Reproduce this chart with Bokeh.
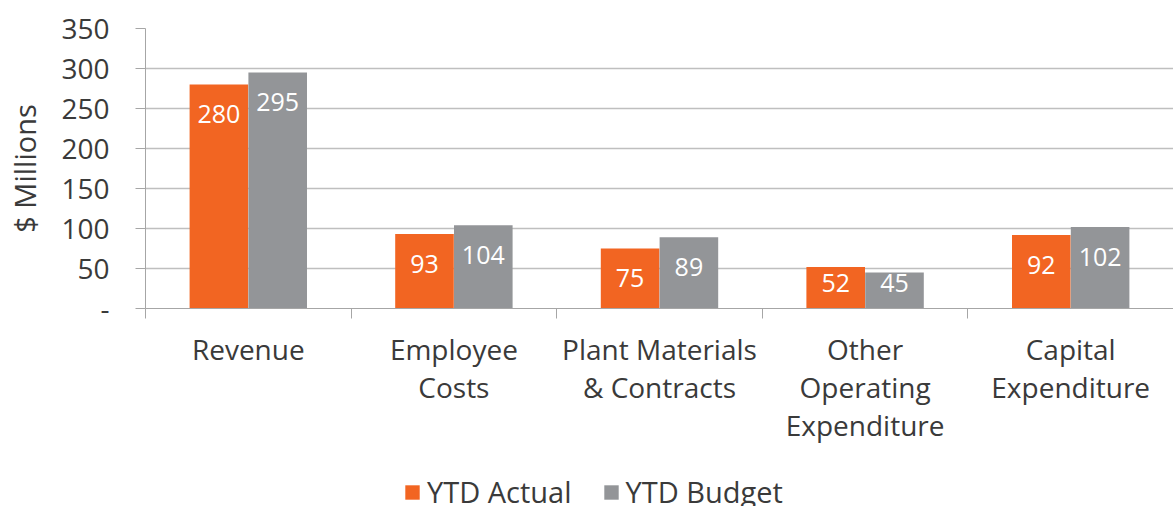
from bokeh.plotting import figure
from bokeh.layouts import column
from bokeh.models import (ColumnDataSource, Range1d, FixedTicker, Legend, LegendItem)
from bokeh.transform import dodge
from bokeh.core.properties import value
from bokeh.embed import file_html
from bokeh.resources import INLINE

categories = ["Revenue", "Employee\nCosts", "Plant Materials\n& Contracts",
              "Other\nOperating\nExpenditure", "Capital\nExpenditure"]
ytd_actual = [280, 93, 75, 52, 92]
ytd_budget = [295, 104, 89, 45, 102]
y_ticks = [0, 50, 100, 150, 200, 250, 300, 350]
y_tick_labels = ["-", "50", "100", "150", "200", "250", "300", "350"]
series_names = ["YTD Actual", "YTD Budget"]

ORANGE = "#F26522"
GRAY = "#939598"
TEXT = "#3a3a3a"
FONT = "Open Sans"

n = len(categories)
xc = [i + 0.5 for i in range(n)]

def label_pos(vals):
    return [max(v - 37, 32) for v in vals]

src = ColumnDataSource(dict(
    xc=xc, actual=ytd_actual, budget=ytd_budget,
    actual_lbl=[str(v) for v in ytd_actual], budget_lbl=[str(v) for v in ytd_budget],
    actual_y=label_pos(ytd_actual), budget_y=label_pos(ytd_budget),
))

p = figure(width=1173, height=470, output_backend="svg", toolbar_location=None,
           x_range=Range1d(0, n), y_range=Range1d(0, 350),
           min_border_left=145, min_border_top=28, min_border_right=0, min_border_bottom=162)
p.outline_line_color = None
p.background_fill_color = "white"

bw = 0.285
r1 = p.vbar(x=dodge("xc", -0.143), top="actual", width=bw, source=src,
            fill_color=ORANGE, line_color=None)
r2 = p.vbar(x=dodge("xc", 0.143), top="budget", width=bw, source=src,
            fill_color=GRAY, line_color=None)

p.text(x=dodge("xc", -0.143), y="actual_y", text="actual_lbl", source=src,
       text_color="white", text_align="center", text_baseline="middle",
       text_font=value(FONT), text_font_size="25px")
p.text(x=dodge("xc", 0.143), y="budget_y", text="budget_lbl", source=src,
       text_color="white", text_align="center", text_baseline="middle",
       text_font=value(FONT), text_font_size="25px")

# y axis
p.yaxis.ticker = FixedTicker(ticks=y_ticks)
p.yaxis.major_label_overrides = {t: l for t, l in zip(y_ticks, y_tick_labels)}
p.yaxis.major_tick_in = 0
p.yaxis.major_tick_out = 10
p.yaxis.minor_tick_out = 0
p.yaxis.minor_tick_in = 0
p.yaxis.major_label_standoff = 26
p.yaxis.axis_line_color = "#A6A6A6"
p.yaxis.major_tick_line_color = "#A6A6A6"
p.yaxis.major_label_text_font = FONT
p.yaxis.major_label_text_font_size = "28px"
p.yaxis.major_label_text_color = TEXT
p.yaxis.axis_label = "$ Millions"
p.yaxis.axis_label_text_font = FONT
p.yaxis.axis_label_text_font_size = "29px"
p.yaxis.axis_label_text_font_style = "normal"
p.yaxis.axis_label_text_color = TEXT
p.yaxis.axis_label_standoff = 14

# x axis: labels at category centres, boundary ticks as minor ticks
p.xaxis.ticker = FixedTicker(ticks=xc, minor_ticks=list(range(n + 1)))
p.xaxis.major_label_overrides = {x: c for x, c in zip(xc, categories)}
p.xaxis.major_tick_in = 0
p.xaxis.major_tick_out = 0
p.xaxis.minor_tick_in = 0
p.xaxis.minor_tick_out = 10
p.xaxis.minor_tick_line_color = "#A6A6A6"
p.xaxis.axis_line_color = "#A6A6A6"
p.xaxis.major_label_standoff = 11
p.xaxis.major_label_text_font = FONT
p.xaxis.major_label_text_font_size = "28px"
p.xaxis.major_label_text_line_height = 1.0
p.xaxis.major_label_text_color = TEXT

p.xgrid.grid_line_color = None
p.ygrid.ticker = FixedTicker(ticks=y_ticks)
p.ygrid.grid_line_color = "#BFBFBF"
p.ygrid.grid_line_width = 1.5

# legend strip below the chart (same series, glyphs kept out of view)
lf = figure(width=1173, height=36, output_backend="svg", toolbar_location=None,
            x_range=Range1d(10, 11), y_range=Range1d(1000, 1001),
            x_axis_type=None, y_axis_type=None,
            min_border_left=0, min_border_right=0, min_border_top=0, min_border_bottom=0)
lf.grid.grid_line_color = None
lf.outline_line_color = None
l1 = lf.vbar(x=dodge("xc", -0.143), top="actual", width=bw, source=src,
             fill_color=ORANGE, line_color=None)
l2 = lf.vbar(x=dodge("xc", 0.143), top="budget", width=bw, source=src,
             fill_color=GRAY, line_color=None)
legend = Legend(items=[LegendItem(label=series_names[0], renderers=[l1]),
                       LegendItem(label=series_names[1], renderers=[l2])],
                orientation="horizontal", location=(258, -5))
legend.label_text_font = FONT
legend.label_text_font_size = "29px"
legend.label_text_color = TEXT
legend.glyph_width = 18
legend.glyph_height = 18
legend.spacing = 30
legend.label_standoff = 6
legend.border_line_color = None
legend.background_fill_alpha = 0
legend.margin = 0
legend.padding = 0
lf.add_layout(legend, "center")

layout = column(p, lf, spacing=0)
open("out.html", "w").write(file_html(layout, INLINE))
